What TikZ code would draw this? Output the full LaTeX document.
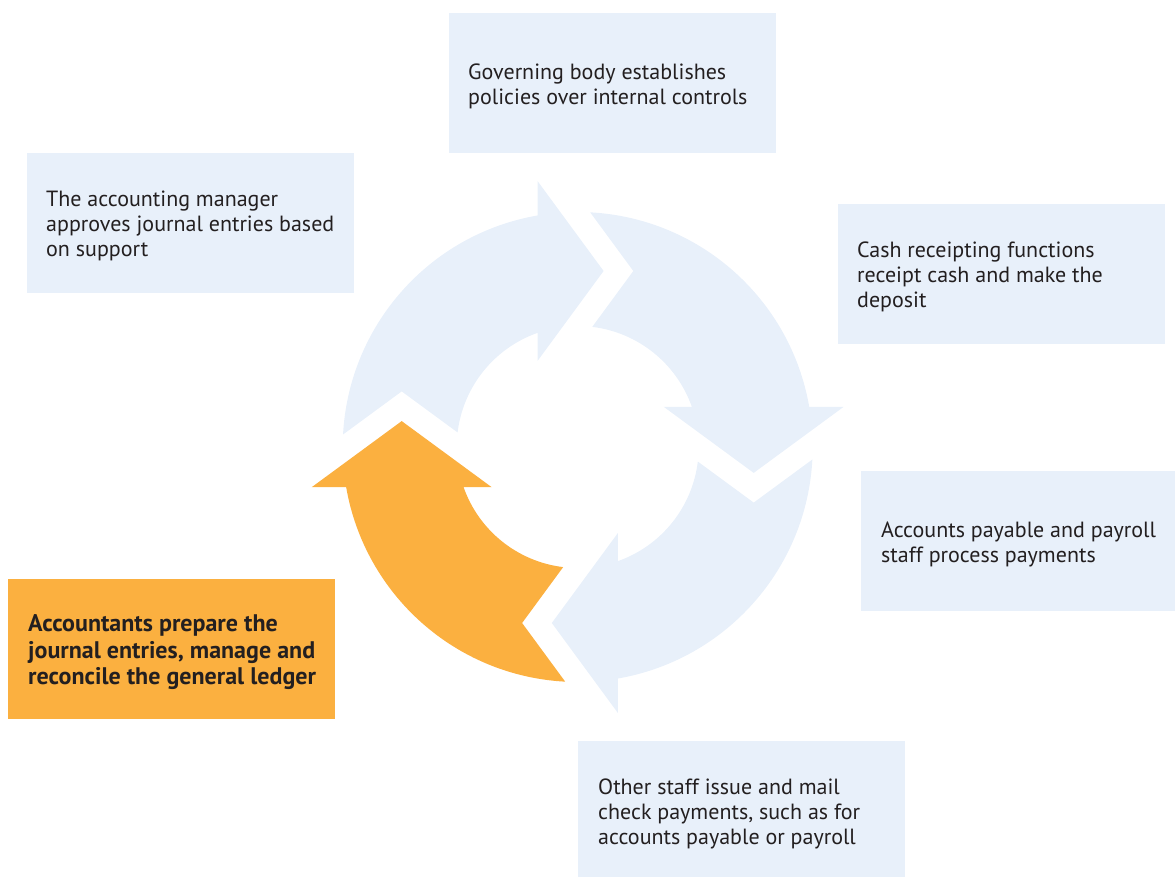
\documentclass[tikz,border=0pt]{standalone}
\usepackage{fontspec}
\setmainfont{PT Sans}
\definecolor{boxblue}{RGB}{232,240,250}
\definecolor{accent}{RGB}{251,176,64}
\definecolor{ink}{RGB}{35,31,32}

\begin{document}
\begin{tikzpicture}[x=1pt,y=1pt,
  stepbox/.style={anchor=north west, fill=boxblue, draw=none,
    minimum width=327pt, minimum height=140pt, inner sep=0pt},
  keybox/.style={stepbox, fill=accent},
  steptext/.style={anchor=west, align=left, inner sep=0pt, text=ink,
    font=\fontsize{22}{25}\selectfont},
  keytext/.style={steptext, font=\bfseries\fontsize{24}{26.7}\selectfont}]

\useasboundingbox (0,0) rectangle (1175,876);
\clip (0,0) rectangle (1175,876);

% four curved arrows forming the cycle, each a quarter turn of the same outline
\begin{scope}[shift={(577.7,429)}]
  \foreach \r/\c in {0/boxblue,-90/boxblue,-180/boxblue,90/accent} {
    \fill[\c, rotate=\r]
      (176.95:235) arc[start angle=176.95, end angle=99.85, radius=235]
      -- (-40.2,266) -- (25.9,176) -- (-40.2,86)
      -- (109.4:121) arc[start angle=109.4, end angle=173.09, radius=121]
      -- (-176,55.6) -- cycle;
  }
\end{scope}

% step boxes
\node[stepbox] (gov)  at (449,863) {};
\node[stepbox] (mgr)  at (27,723)  {};
\node[stepbox] (cash) at (838,672) {};
\node[stepbox] (ap)   at (861,405) {};
\node[stepbox] (mail) at (578,135) {};
\node[keybox]  (acct) at (8,297)   {};

\node[steptext] (govt)  at ([xshift=19pt,yshift=-3pt]gov.west)
  {Governing body establishes\\policies over internal controls};
\node[steptext] (mgrt)  at ([xshift=19pt,yshift=-3pt]mgr.west)
  {The accounting manager\\approves journal entries based\\on support};
\node[steptext] (casht) at ([xshift=19pt,yshift=-3pt]cash.west)
  {Cash receipting functions\\receipt cash and make the\\deposit};
\node[steptext] (apt)   at ([xshift=20pt,yshift=-3pt]ap.west)
  {Accounts payable and payroll\\staff process payments};
\node[steptext] (mailt) at ([xshift=20pt,yshift=-3pt]mail.west)
  {Other staff issue and mail\\check payments, such as for\\accounts payable or payroll};
\node[keytext]  (acctt) at ([xshift=20pt,yshift=-3pt]acct.west)
  {Accountants prepare the\\journal entries, manage and\\reconcile the general ledger};
\end{tikzpicture}
\end{document}
